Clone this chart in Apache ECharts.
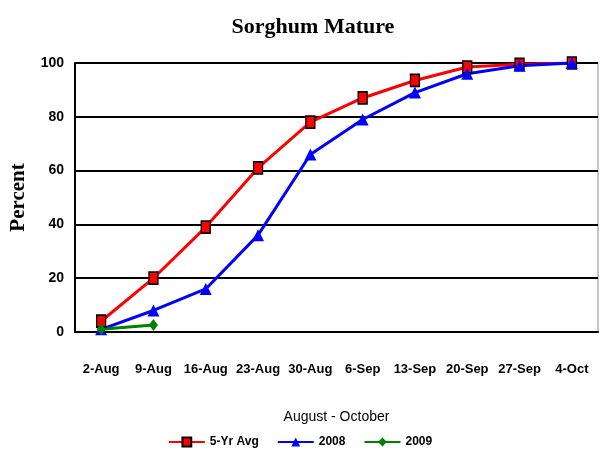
<!DOCTYPE html>
<html>
<head>
<meta charset="utf-8">
<script src="https://cdn.jsdelivr.net/npm/echarts@6/dist/echarts.min.js"></script>
<style>
  html, body { margin: 0; padding: 0; background: #fff; }
  #chart { width: 600px; height: 457px; }
</style>
</head>
<body>
<div id="chart"></div>
<script>
const categories = ['2-Aug', '9-Aug', '16-Aug', '23-Aug', '30-Aug', '6-Sep', '13-Sep', '20-Sep', '27-Sep', '4-Oct']
const avg5yr = [4, 20, 39, 61, 78, 87, 93.5, 98.5, 99.5, 100]
const y2008 = [1, 8, 16, 36, 66, 79, 89, 96, 99, 100]
const y2009 = [1, 2.6]

const sans = '"Liberation Sans", Arial, sans-serif'
const serif = '"Liberation Serif", "Times New Roman", serif'

const chart = echarts.init(document.getElementById('chart'))
chart.setOption({
  animation: false,
  title: {
    text: 'Sorghum Mature',
    left: 308,
    textAlign: 'center',
    top: 11,
    textStyle: { fontFamily: serif, fontWeight: 'bold', fontSize: 22, color: '#000' }
  },
  legend: {
    bottom: 4,
    left: 'center',
    itemGap: 18,
    itemWidth: 36,
    itemHeight: 11,
    textStyle: { fontFamily: sans, fontWeight: 'bold', fontSize: 12, color: '#000' },
    data: ['5-Yr Avg', '2008', '2009']
  },
  grid: {
    left: 72,
    right: 2,
    top: 63,
    bottom: 125,
    show: true,
    borderColor: '#888',
    borderWidth: 1
  },
  xAxis: {
    type: 'category',
    data: categories,
    boundaryGap: true,
    name: 'August - October',
    nameLocation: 'middle',
    nameGap: 78,
    nameTextStyle: { fontFamily: sans, fontSize: 14, color: '#000' },
    axisLine: { lineStyle: { color: '#000', width: 2 } },
    axisTick: { show: false },
    axisLabel: { fontFamily: sans, fontWeight: 'bold', fontSize: 13, color: '#000', margin: 31, interval: 0 }
  },
  yAxis: {
    type: 'value',
    min: 0,
    max: 100,
    interval: 20,
    name: 'Percent',
    nameLocation: 'middle',
    nameGap: 46,
    nameTextStyle: { fontFamily: serif, fontWeight: 'bold', fontSize: 21, color: '#000' },
    axisLine: { show: true, lineStyle: { color: '#000', width: 2 } },
    axisTick: { show: false },
    splitLine: { lineStyle: { color: '#000', width: 2 } },
    axisLabel: { fontFamily: sans, fontWeight: 'bold', fontSize: 14, color: '#000', margin: 11 }
  },
  series: [
    {
      name: '5-Yr Avg',
      type: 'line',
      data: avg5yr,
      symbol: 'rect',
      symbolSize: [9, 12],
      lineStyle: { color: '#ff0000', width: 3 },
      itemStyle: { color: '#ff0000', borderColor: '#000', borderWidth: 1.5 }
    },
    {
      name: '2008',
      type: 'line',
      data: y2008,
      symbol: 'triangle',
      symbolSize: 12,
      lineStyle: { color: '#0000ff', width: 3 },
      itemStyle: { color: '#0000ff' }
    },
    {
      name: '2009',
      type: 'line',
      data: y2009,
      symbol: 'diamond',
      symbolSize: [9, 12],
      lineStyle: { color: '#008000', width: 3 },
      itemStyle: { color: '#008000' }
    }
  ]
})
</script>
</body>
</html>
